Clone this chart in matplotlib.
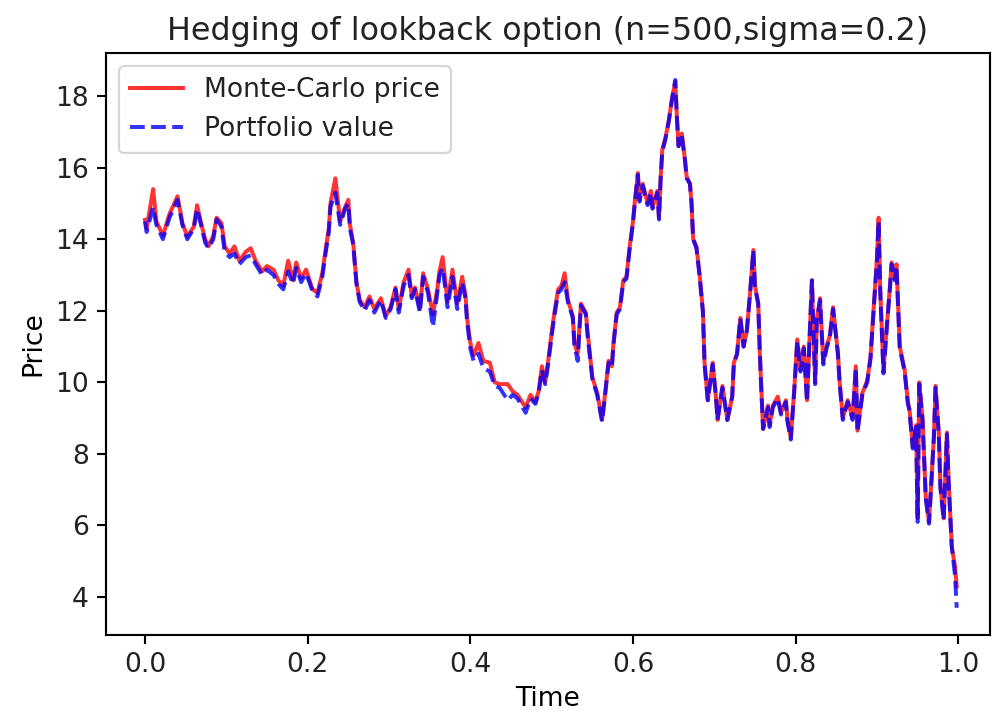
import numpy as np
import matplotlib
matplotlib.use("Agg")
import matplotlib.pyplot as plt

n = 500
steps = [0, 1, 5, 7, 11, 15, 20, 23, 26, 30,
         32, 35, 37, 39, 42, 44, 47, 49, 52, 55,
         58, 62, 65, 68, 72, 75, 79, 82, 85, 88,
         91, 93, 96, 99, 103, 106, 109, 111, 113, 114,
         117, 120, 123, 125, 126, 128, 129, 130, 132, 135,
         138, 141, 145, 148, 151, 154, 156, 159, 162, 164,
         166, 169, 171, 174, 177, 180, 181, 183, 186, 189,
         192, 195, 197, 198, 200, 202, 205, 208, 212, 215,
         218, 223, 226, 229, 234, 237, 240, 242, 244, 246,
         248, 250, 252, 254, 256, 258, 260, 263, 264, 266,
         268, 271, 272, 275, 278, 281, 283, 285, 287, 288,
         290, 292, 294, 296, 298, 300, 301, 303, 304, 306,
         309, 311, 312, 315, 316, 317, 318, 320, 322, 324,
         326, 327, 328, 330, 332, 333, 335, 336, 337, 339,
         341, 343, 344, 346, 349, 351, 352, 355, 358, 361,
         362, 364, 366, 368, 370, 372, 374, 375, 377, 378,
         379, 380, 383, 384, 386, 389, 391, 394, 395, 397,
         399, 401, 403, 405, 407, 408, 410, 412, 413, 415,
         417, 419, 421, 423, 426, 427, 429, 432, 435, 437,
         438, 441, 444, 446, 448, 450, 451, 452, 454, 456,
         458, 459, 461, 462, 464, 467, 469, 470, 472, 474,
         475, 476, 478, 480, 482, 485, 486, 488, 489, 491,
         493, 494, 496, 498, 499]

mc_price = [14.54, 14.3, 15.4, 14.5, 14.1, 14.7, 15.2, 14.45, 14.07, 14.35,
            14.95, 14.35, 14.0, 13.8, 14.1, 14.6, 14.45, 13.8, 13.6, 13.8,
            13.4, 13.65, 13.75, 13.4, 13.1, 13.25, 13.15, 12.85, 12.7, 13.4,
            12.85, 13.35, 12.9, 13.15, 12.6, 12.5, 13.05, 13.7, 14.3, 15.0,
            15.7, 14.5, 14.9, 15.1, 14.4, 13.9, 13.35, 12.8, 12.3, 12.1,
            12.4, 12.05, 12.35, 11.85, 12.1, 12.65, 12.05, 12.8, 13.15, 12.4,
            12.65, 12.05, 13.05, 12.6, 11.9, 12.7, 13.1, 13.5, 12.25, 13.15,
            12.2, 12.95, 12.45, 11.8, 11.1, 10.75, 11.1, 10.6, 10.55, 10.0,
            9.95, 9.95, 9.75, 9.65, 9.3, 9.65, 9.45, 9.75, 10.45, 10.0,
            10.65, 11.4, 12.05, 12.6, 12.7, 13.05, 12.3, 11.85, 11.1, 10.8,
            12.2, 11.95, 11.45, 10.15, 9.7, 8.95, 9.75, 10.6, 10.45, 11.1,
            11.95, 12.1, 12.85, 12.95, 13.8, 14.5, 15.0, 15.85, 15.1, 15.55,
            15.0, 15.35, 14.9, 15.35, 14.6, 15.7, 16.5, 16.85, 17.3, 17.95,
            18.4, 17.4, 16.6, 16.95, 16.2, 15.75, 15.55, 15.0, 14.0, 13.8,
            13.0, 12.0, 10.55, 9.5, 10.55, 9.6, 8.95, 9.9, 8.95, 9.6,
            10.55, 10.8, 11.8, 11.0, 11.45, 12.5, 13.7, 12.7, 12.2, 10.8,
            9.7, 8.7, 9.35, 8.8, 9.35, 9.6, 9.15, 9.5, 8.95, 8.45,
            9.7, 11.2, 10.35, 11.0, 9.5, 10.6, 12.85, 10.0, 11.75, 12.35,
            10.55, 11.0, 11.3, 12.1, 10.8, 10.05, 9.0, 9.5, 9.0, 10.45,
            8.65, 9.7, 10.05, 10.7, 12.1, 13.5, 14.6, 12.6, 10.3, 11.55,
            12.7, 13.35, 12.9, 13.3, 11.0, 10.35, 9.45, 9.25, 8.2, 8.8,
            6.2, 10.0, 9.0, 6.8, 6.1, 8.5, 9.9, 8.6, 7.1, 6.2,
            8.6, 7.3, 5.4, 4.85, 4.3]

portfolio = [14.5, 14.2, 14.9, 14.4, 14.0, 14.6, 15.1, 14.4, 14.0, 14.3,
             14.85, 14.3, 13.9, 13.75, 14.0, 14.55, 14.35, 13.65, 13.5, 13.6,
             13.3, 13.5, 13.55, 13.3, 13.0, 13.15, 13.0, 12.75, 12.6, 13.1,
             12.75, 13.2, 12.8, 13.05, 12.55, 12.4, 12.95, 13.6, 14.2, 14.9,
             15.3, 14.4, 14.85, 15.0, 14.3, 13.85, 13.3, 12.75, 12.25, 12.0,
             12.3, 11.95, 12.3, 11.8, 12.05, 12.6, 11.95, 12.7, 13.0, 12.35,
             12.6, 11.95, 12.95, 12.5, 11.55, 12.6, 13.0, 13.2, 12.1, 12.95,
             12.05, 12.8, 12.35, 11.7, 10.95, 10.6, 10.8, 10.4, 10.3, 9.9,
             9.85, 9.5, 9.65, 9.55, 9.15, 9.55, 9.4, 9.7, 10.35, 9.95,
             10.55, 11.3, 11.95, 12.5, 12.6, 12.8, 12.25, 11.8, 11.05, 10.6,
             12.15, 11.9, 11.35, 10.1, 9.65, 8.9, 9.7, 10.55, 10.4, 11.05,
             11.9, 12.05, 12.8, 12.9, 13.75, 14.45, 14.95, 15.8, 15.05, 15.5,
             14.95, 15.3, 14.85, 15.3, 14.55, 15.7, 16.45, 16.8, 17.3, 17.9,
             18.45, 17.4, 16.6, 16.9, 16.2, 15.7, 15.55, 15.0, 14.0, 13.75,
             12.95, 11.95, 10.5, 9.5, 10.5, 9.6, 8.95, 9.85, 8.95, 9.6,
             10.5, 10.8, 11.8, 11.0, 11.45, 12.5, 13.7, 12.65, 12.2, 10.8,
             9.7, 8.7, 9.3, 8.75, 9.3, 9.55, 9.1, 9.45, 8.9, 8.4,
             9.65, 11.15, 10.3, 10.95, 9.45, 10.6, 12.85, 9.95, 11.7, 12.3,
             10.5, 10.95, 11.25, 12.05, 10.8, 10.0, 8.95, 9.45, 8.95, 10.4,
             8.6, 9.65, 10.0, 10.65, 12.05, 13.4, 14.5, 12.55, 10.25, 11.5,
             12.65, 13.3, 12.85, 13.25, 10.95, 10.3, 9.4, 9.2, 8.15, 8.75,
             6.1, 9.95, 8.95, 6.75, 6.05, 8.45, 9.85, 8.55, 7.05, 6.15,
             8.55, 7.25, 5.4, 4.6, 3.7]

time = np.array(steps) / n

# the reference is an upscaled notebook image, so everything is ~1.23x
k = 1.23
plt.rcParams.update({
    "font.size": 10 * k,
    "lines.linewidth": 1.5 * k,
    "axes.linewidth": 0.8 * k,
    "xtick.major.size": 3.5 * k,
    "ytick.major.size": 3.5 * k,
    "xtick.major.width": 0.8 * k,
    "ytick.major.width": 0.8 * k,
    "text.color": "#222222",
    "xtick.labelcolor": "#222222",
    "ytick.labelcolor": "#222222",
})

dpi = 155.31
fig = plt.figure(figsize=(994 / dpi, 718 / dpi), dpi=dpi)
ax = fig.add_axes([0.1066, 0.1156, 0.8894, 0.8104])

ax.plot(time, mc_price, 'r', alpha=0.8, label="Monte-Carlo price")
ax.plot(time, portfolio, 'b--', alpha=0.8, label="Portfolio value")

ax.set_xlim(-0.048, 1.039)
ax.set_ylim(2.94, 19.2)
ax.set_title("Hedging of lookback option (n=500,sigma=0.2)")
ax.set_xlabel("Time")
ax.set_ylabel("Price")
ax.legend(loc="upper left")

plt.savefig("out.png", dpi=dpi)
